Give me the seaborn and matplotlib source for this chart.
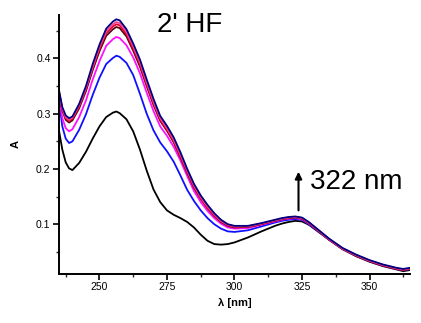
import numpy as np
import pandas as pd
import matplotlib
matplotlib.use("Agg")
import matplotlib.pyplot as plt
from matplotlib.ticker import MultipleLocator
import seaborn as sns

# wavelength grid (nm)
wavelength = [235, 236.25, 237.5, 238.75, 240, 242.5, 245, 247.5, 250, 252.5,
              255, 256.25, 257.5, 260, 262.5, 265, 267.5, 270, 272.5, 275,
              277.5, 280, 282.5, 285, 287.5, 290, 292.5, 295, 297.5, 300,
              305, 310, 315, 317.5, 320, 322.5, 325, 327.5, 330, 335,
              340, 345, 350, 355, 360, 362.5, 365]

# absorbance of each spectrum
abs_black = [0.270, 0.235, 0.212, 0.201, 0.198, 0.211, 0.231, 0.255, 0.277, 0.294,
             0.302, 0.304, 0.301, 0.290, 0.268, 0.235, 0.197, 0.163, 0.140, 0.125,
             0.117, 0.111, 0.104, 0.094, 0.081, 0.070, 0.064, 0.063, 0.064, 0.067,
             0.076, 0.087, 0.097, 0.101, 0.104, 0.106, 0.105, 0.099, 0.090, 0.072,
             0.055, 0.042, 0.032, 0.024, 0.018, 0.015, 0.017]
abs_blue = [0.325, 0.277, 0.255, 0.247, 0.250, 0.271, 0.299, 0.334, 0.365, 0.390,
            0.401, 0.405, 0.403, 0.392, 0.370, 0.336, 0.300, 0.270, 0.248, 0.232,
            0.213, 0.188, 0.162, 0.142, 0.125, 0.111, 0.100, 0.092, 0.087, 0.086,
            0.089, 0.096, 0.103, 0.106, 0.108, 0.109, 0.108, 0.100, 0.091, 0.072,
            0.055, 0.043, 0.033, 0.025, 0.019, 0.017, 0.019]
abs_magenta = [0.332, 0.292, 0.274, 0.268, 0.272, 0.294, 0.324, 0.362, 0.395, 0.423,
               0.435, 0.439, 0.437, 0.424, 0.402, 0.373, 0.338, 0.305, 0.277, 0.260,
               0.240, 0.215, 0.187, 0.160, 0.140, 0.124, 0.111, 0.101, 0.094, 0.092,
               0.093, 0.099, 0.105, 0.108, 0.110, 0.111, 0.109, 0.101, 0.092, 0.072,
               0.055, 0.043, 0.033, 0.025, 0.019, 0.017, 0.019]
abs_wine = [0.338, 0.306, 0.289, 0.284, 0.288, 0.310, 0.341, 0.379, 0.413, 0.441,
            0.453, 0.457, 0.455, 0.440, 0.414, 0.385, 0.350, 0.316, 0.287, 0.269,
            0.248, 0.221, 0.193, 0.166, 0.146, 0.129, 0.115, 0.104, 0.097, 0.094,
            0.095, 0.100, 0.106, 0.109, 0.111, 0.112, 0.110, 0.102, 0.092, 0.072,
            0.055, 0.043, 0.033, 0.025, 0.019, 0.017, 0.019]
abs_red = [0.340, 0.308, 0.292, 0.287, 0.291, 0.313, 0.344, 0.383, 0.417, 0.446,
           0.458, 0.462, 0.460, 0.444, 0.418, 0.389, 0.353, 0.319, 0.289, 0.271,
           0.250, 0.223, 0.195, 0.168, 0.147, 0.130, 0.116, 0.105, 0.098, 0.095,
           0.096, 0.101, 0.107, 0.110, 0.112, 0.113, 0.111, 0.103, 0.093, 0.073,
           0.056, 0.044, 0.034, 0.026, 0.020, 0.018, 0.020]
abs_pink = [0.341, 0.309, 0.294, 0.289, 0.293, 0.316, 0.347, 0.386, 0.421, 0.449,
            0.462, 0.466, 0.464, 0.448, 0.422, 0.393, 0.357, 0.322, 0.292, 0.274,
            0.253, 0.226, 0.197, 0.170, 0.149, 0.132, 0.118, 0.106, 0.099, 0.096,
            0.096, 0.101, 0.107, 0.110, 0.112, 0.113, 0.111, 0.103, 0.093, 0.073,
            0.056, 0.044, 0.034, 0.026, 0.020, 0.018, 0.020]
abs_navy = [0.343, 0.312, 0.297, 0.292, 0.295, 0.318, 0.350, 0.390, 0.425, 0.454,
            0.467, 0.471, 0.469, 0.453, 0.427, 0.398, 0.362, 0.327, 0.296, 0.278,
            0.257, 0.230, 0.200, 0.173, 0.152, 0.135, 0.120, 0.108, 0.100, 0.097,
            0.097, 0.102, 0.108, 0.111, 0.113, 0.114, 0.112, 0.104, 0.094, 0.074,
            0.057, 0.045, 0.035, 0.027, 0.021, 0.019, 0.021]

series = {"s1": abs_black, "s2": abs_blue, "s3": abs_magenta, "s4": abs_wine,
          "s5": abs_red, "s6": abs_pink, "s7": abs_navy}
colors = ["#000000", "#1010ff", "#ff10ff", "#5a0010", "#e0002a", "#ff4090", "#000080"]

df = pd.concat([pd.DataFrame({"wl": wavelength, "A": v, "run": k})
                for k, v in series.items()], ignore_index=True)

sns.set_style("ticks")
plt.rcParams["font.family"] = ["Liberation Sans", "DejaVu Sans"]
plt.rcParams["text.color"] = "black"
plt.rcParams["axes.labelcolor"] = "black"

fig = plt.figure(figsize=(4.21, 3.23), dpi=100)
ax = fig.add_axes([0.140, 0.152, 0.834, 0.802])

sns.lineplot(data=df, x="wl", y="A", hue="run", palette=colors,
             linewidth=1.3, legend=False, ax=ax, sort=False)

ax.set_xlim(235, 365)
ax.set_ylim(0.01, 0.479)
ax.xaxis.set_major_locator(MultipleLocator(25))
ax.xaxis.set_minor_locator(MultipleLocator(12.5))
ax.yaxis.set_major_locator(MultipleLocator(0.1))
ax.yaxis.set_minor_locator(MultipleLocator(0.05))
ax.set_yticks([0.1, 0.2, 0.3, 0.4])
ax.set_yticklabels(["0.1", "0.2", "0.3", "0.4"])

sns.despine(ax=ax)
for s in ["left", "bottom"]:
    ax.spines[s].set_linewidth(1.4)
    ax.spines[s].set_color("black")
ax.tick_params(which="major", direction="out", length=4, width=1.2,
               labelsize=7.5, colors="black", pad=2)
ax.tick_params(which="minor", direction="out", length=2.5, width=1.0)

ax.set_xlabel("λ [nm]", fontsize=8, fontweight="bold", labelpad=4)
ax.set_ylabel("A", fontsize=8, fontweight="bold", labelpad=11)

ax.text(271.3, 0.448, "2' HF", fontsize=20, color="black")
ax.text(327.8, 0.164, "322 nm", fontsize=20, color="black")
ax.annotate("", xy=(323.7, 0.200), xytext=(323.7, 0.120),
            arrowprops=dict(arrowstyle="-|>", color="black", lw=1.5,
                            mutation_scale=10))

fig.savefig("out.png", dpi=100)
